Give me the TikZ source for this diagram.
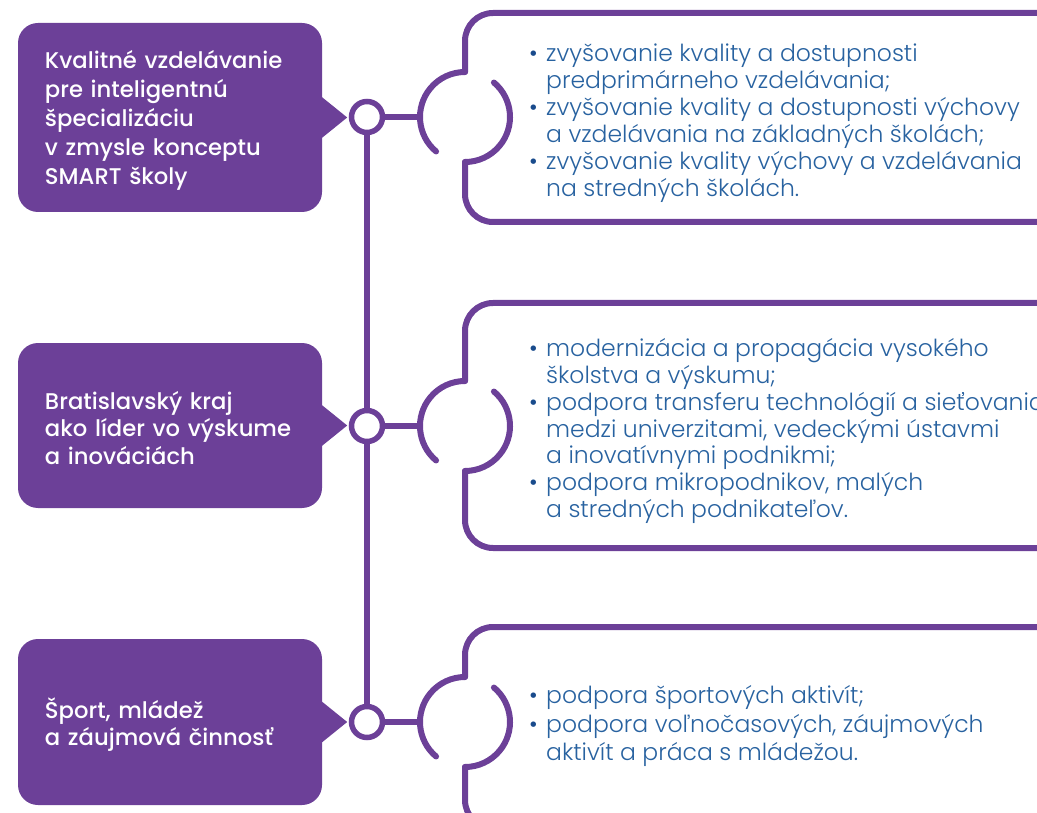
\documentclass[tikz,border=0pt]{standalone}
\usepackage{fontspec}
\setmainfont{Poppins}
\newfontfamily\lfont{Poppins}[UprightFont={* Medium}]
\newfontfamily\rfont{Poppins}[UprightFont={* Light}]
\definecolor{vio}{RGB}{108,64,152}
\definecolor{txtblue}{RGB}{40,98,160}
\definecolor{bulblue}{RGB}{25,75,140}
\newcommand\bul{\makebox[17pt][l]{\color{bulblue}•}}
\newcommand\ind{\hspace*{17pt}}
\tikzset{
  lbox/.style={fill=vio, rounded corners=20pt, minimum width=304pt, inner sep=0pt},
  ltext/.style={text width=250pt, inner sep=0pt, align=left, text=white,
    font=\lfont\fontsize{22.7}{29}\selectfont},
  ptr/.style={fill=vio},
  circ/.style={circle, draw=vio, line width=5.5pt, fill=white, minimum size=31pt, inner sep=0pt},
  vline/.style={draw=vio, line width=5.5pt},
  pline/.style={draw=vio, line width=6pt, line cap=round},
  rtext/.style={anchor=west, inner sep=0pt, align=left, text=txtblue,
    font=\rfont\fontsize{23.5}{27}\selectfont}
}
\begin{document}
\begin{tikzpicture}[x=1pt,y=-1pt]
\useasboundingbox (0,0) rectangle (1037,813);
% spine
\coordinate (p1) at (367,117);
\coordinate (p2) at (367,426);
\coordinate (p3) at (367,722);
\draw[vline] (p1) -- (p3);
% left boxes
\node[lbox, minimum height=189pt] (l1) at (170,117.5) {};
\node[lbox, minimum height=165pt] (l2) at (170,425.5) {};
\node[lbox, minimum height=166pt] (l3) at (170,722) {};
\foreach \n in {l1,l2,l3}{
  \fill[ptr] ([xshift=-1pt,yshift=21pt]\n.east) -- ([xshift=25pt]\n.east) -- ([xshift=-1pt,yshift=-21pt]\n.east) -- cycle;
}
\node[ltext] (lt1) at (170,120.5) {Kvalitné vzdelávanie\\pre inteligentnú\\špecializáciu\\v zmysle konceptu\\SMART školy};
\node[ltext, font=\lfont\fontsize{22.7}{27.7}\selectfont] (lt2) at (170,428) {Bratislavský kraj\\ako líder vo výskume\\a inováciách};
\node[ltext, font=\lfont\fontsize{22.7}{27}\selectfont] (lt3) at (170,724.5) {Šport, mládež\\a záujmová činnosť};
% circles
\node[circ] (c1) at (p1) {};
\node[circ] (c2) at (p2) {};
\node[circ] (c3) at (p3) {};
% bracket centres
\coordinate (o1) at (465,117);
\coordinate (o2) at (465,426);
\coordinate (o3) at (465,722);
\coordinate (a1) at (420,117);
\coordinate (a2) at (420,426);
\coordinate (a3) at (420,722);
\draw[vline] (c1) -- (a1);
\draw[vline] (c2) -- (a2);
\draw[vline] (c3) -- (a3);
% right boxes
% box 1
\draw[pline] (o1) ++(-230:45) arc[start angle=-230, end angle=-90, radius=45];
\draw[pline] (o1) ++(-50:45) arc[start angle=-50, end angle=90, radius=45];
\draw[pline, rounded corners=28pt] (465,72) -- (465,13) -- (1050,13);
\draw[pline, rounded corners=28pt] (465,162) -- (465,222) -- (1050,222);
% box 2
\draw[pline] (o2) ++(-230:45) arc[start angle=-230, end angle=-90, radius=45];
\draw[pline] (o2) ++(-50:45) arc[start angle=-50, end angle=90, radius=45];
\draw[pline, rounded corners=28pt] (465,381) -- (465,303) -- (1050,303);
\draw[pline, rounded corners=28pt] (465,471) -- (465,548) -- (1050,548);
% box 3
\draw[pline] (o3) ++(-230:45) arc[start angle=-230, end angle=-90, radius=45];
\draw[pline] (o3) ++(-50:45) arc[start angle=-50, end angle=90, radius=45];
\draw[pline, rounded corners=28pt] (465,677) -- (465,627) -- (1050,627);
\draw[pline, rounded corners=28pt] (465,767) -- (465,828) -- (1050,828);
% texts
\node[rtext] (t1) at (529,123) {\bul zvyšovanie kvality a dostupnosti\\\ind predprimárneho vzdelávania;\\\bul zvyšovanie kvality a dostupnosti výchovy\\\ind a vzdelávania na základných školách;\\\bul zvyšovanie kvality výchovy a vzdelávania\\\ind na stredných školách.};
\node[rtext, font=\rfont\fontsize{23.5}{26.7}\selectfont] (t2) at (529,431) {\bul modernizácia a propagácia vysokého\\\ind školstva a výskumu;\\\bul podpora transferu technológií a sieťovania\\\ind medzi univerzitami, vedeckými ústavmi\\\ind a inovatívnymi podnikmi;\\\bul podpora mikropodnikov, malých\\\ind a stredných podnikateľov.};
\node[rtext, font=\rfont\fontsize{23.5}{28.5}\selectfont] (t3) at (529,726) {\bul podpora športových aktivít;\\\bul podpora voľnočasových, záujmových\\\ind aktivít a práca s mládežou.};
\end{tikzpicture}
\end{document}
